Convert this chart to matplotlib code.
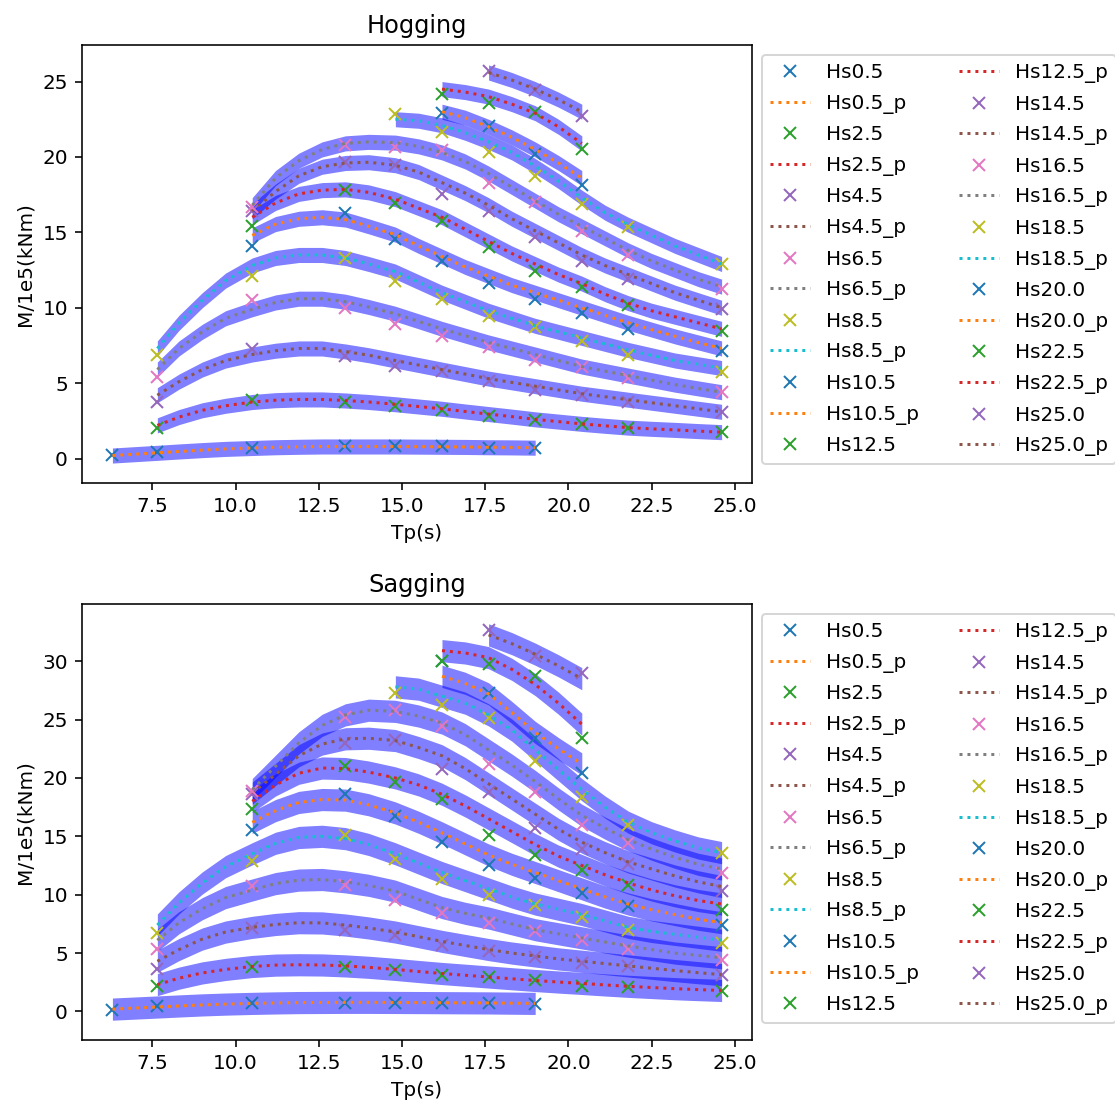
import numpy as np
import matplotlib
matplotlib.use("Agg")
import matplotlib.pyplot as plt

# wave heights (one measured set + one prediction per Hs)
hs_list = [0.5, 2.5, 4.5, 6.5, 8.5, 10.5, 12.5, 14.5, 16.5, 18.5, 20.0, 22.5, 25.0]

# Tp where the measured points sit
tp_pts = [6.3, 7.65, 10.5, 13.3, 14.8, 16.2, 17.6, 19.0, 20.4, 21.8, 24.6]

# Tp grid of the prediction curves
tp_pred = [6.3, 7.65, 8.3, 9.0, 9.7, 10.5, 11.2, 11.9, 12.6, 13.3, 14.0, 14.8, 15.5,
           16.2, 16.9, 17.6, 18.3, 19.0, 19.7, 20.4, 21.1, 21.8, 22.5, 23.2, 23.9, 24.6]

N = None

# measured hogging moment, M/1e5 (kNm)
hog_meas = [
	[0.23, 0.45, 0.71, 0.82, 0.82, 0.82, 0.71, 0.71, N, N, N],
	[N, 2.0, 3.89, 3.78, 3.51, 3.22, 2.85, 2.56, 2.27, 2.0, 1.78],
	[N, 3.78, 7.27, 6.78, 6.11, 5.78, 5.11, 4.56, 4.22, 3.78, 3.11],
	[N, 5.44, 10.49, 10.0, 8.93, 8.11, 7.38, 6.56, 6.05, 5.33, 4.4],
	[N, 6.84, 12.11, 13.33, 11.78, 10.56, 9.44, 8.71, 7.78, 6.89, 5.73],
	[N, N, 14.11, 16.29, 14.56, 13.11, 11.67, 10.56, 9.67, 8.56, 7.11],
	[N, N, 15.44, 17.78, 16.93, 15.78, 14.0, 12.44, 11.38, 10.18, 8.44],
	[N, N, 16.44, 19.67, 19.44, 17.56, 16.44, 14.67, 13.11, 11.89, 9.89],
	[N, N, 16.67, 20.82, 20.67, 20.49, 18.27, 17.0, 15.11, 13.51, 11.22],
	[N, N, N, N, 22.85, 21.67, 20.33, 18.71, 16.85, 15.38, 12.89],
	[N, N, N, N, N, 22.89, 22.05, 20.18, 18.11, N, N],
	[N, N, N, N, N, 24.2, 23.6, 23.0, 20.56, N, N],
	[N, N, N, N, N, N, 25.67, 24.44, 22.69, N, N],
]

# predicted hogging moment on tp_pred
hog_pred = [
	[0.2, 0.38, 0.47, 0.56, 0.64, 0.70, 0.75, 0.78, 0.80, 0.80, 0.80, 0.80, 0.79, 0.78, 0.77, 0.75, 0.74, 0.72] + [N] * 8,
	[N, 2.2, 2.75, 3.2, 3.5, 3.75, 3.87, 3.92, 3.92, 3.85, 3.75, 3.6, 3.45, 3.3, 3.12, 2.95, 2.78, 2.6, 2.45, 2.3, 2.17, 2.05, 1.97, 1.9, 1.82, 1.75],
	[N, 4.2, 5.1, 5.9, 6.5, 6.9, 7.15, 7.3, 7.3, 7.1, 6.85, 6.5, 6.2, 5.9, 5.6, 5.3, 5.05, 4.8, 4.55, 4.3, 4.1, 3.9, 3.7, 3.5, 3.3, 3.1],
	[N, 5.9, 7.3, 8.4, 9.3, 9.9, 10.35, 10.6, 10.6, 10.4, 10.05, 9.6, 9.1, 8.6, 8.15, 7.7, 7.3, 6.9, 6.5, 6.1, 5.8, 5.5, 5.2, 4.9, 4.65, 4.4],
	[N, 7.3, 9.0, 10.5, 11.8, 12.8, 13.3, 13.5, 13.5, 13.3, 12.9, 12.4, 11.7, 11.0, 10.4, 9.8, 9.3, 8.8, 8.4, 8.0, 7.6, 7.2, 6.85, 6.5, 6.25, 6.0],
	[N] * 5 + [14.8, 15.55, 15.9, 16.0, 15.85, 15.4, 14.85, 14.1, 13.4, 12.7, 12.1, 11.5, 11.0, 10.5, 10.0, 9.5, 9.0, 8.55, 8.1, 7.7, 7.3],
	[N] * 5 + [16.0, 16.95, 17.55, 17.8, 17.85, 17.65, 17.2, 16.6, 16.0, 15.2, 14.4, 13.6, 12.9, 12.2, 11.6, 10.9, 10.3, 9.8, 9.4, 9.0, 8.6],
	[N] * 5 + [16.4, 17.7, 18.75, 19.35, 19.6, 19.65, 19.45, 19.0, 18.3, 17.6, 16.8, 15.9, 15.1, 14.3, 13.5, 12.8, 12.2, 11.6, 11.0, 10.5, 10.0],
	[N] * 5 + [16.8, 18.6, 19.75, 20.5, 20.9, 21.0, 20.95, 20.7, 20.3, 19.7, 18.9, 18.0, 17.1, 16.2, 15.4, 14.6, 13.8, 13.1, 12.5, 11.9, 11.4],
	[N] * 11 + [22.5, 22.4, 22.1, 21.6, 21.0, 20.3, 19.4, 18.4, 17.3, 16.3, 15.5, 14.8, 14.1, 13.5, 12.9],
	[N] * 13 + [23.0, 22.6, 22.0, 21.3, 20.5, 19.6, 18.6] + [N] * 6,
	[N] * 13 + [24.5, 24.3, 24.0, 23.5, 22.9, 22.0, 20.9] + [N] * 6,
	[N] * 15 + [25.6, 25.1, 24.5, 23.8, 23.0] + [N] * 6,
]

# measured sagging moment
sag_meas = [
	[0.15, 0.43, 0.72, 0.72, 0.72, 0.72, 0.72, 0.66, N, N, N],
	[N, 2.14, 3.8, 3.8, 3.52, 3.15, 2.95, 2.66, 2.2, 2.09, 1.72],
	[N, 3.63, 7.15, 7.0, 6.58, 5.72, 5.15, 4.66, 4.15, 3.86, 3.15],
	[N, 5.35, 10.78, 10.87, 9.58, 8.44, 7.58, 6.86, 6.15, 5.35, 4.43],
	[N, 6.72, 12.86, 15.15, 13.07, 11.35, 10.0, 9.15, 8.1, 7.0, 5.86],
	[N, N, 15.52, 18.59, 16.78, 14.5, 12.58, 11.44, 10.15, 9.06, 7.43],
	[N, N, 17.3, 21.01, 19.64, 18.22, 15.15, 13.44, 12.09, 10.87, 8.72],
	[N, N, 18.6, 22.96, 23.24, 20.79, 18.78, 15.73, 13.93, 12.67, 10.29],
	[N, N, 18.9, 25.25, 25.82, 24.44, 21.16, 18.78, 16.01, 14.44, 11.87],
	[N, N, N, N, 27.31, 26.22, 25.16, 21.44, 18.39, 15.93, 13.58],
	[N, N, N, N, N, 30.0, 27.25, 23.45, 20.45, N, N],
	[N, N, N, N, N, 30.05, 29.73, 28.73, 23.4, N, N],
	[N, N, N, N, N, N, 32.7, 30.45, 29.0, N, N],
]

# predicted sagging moment on tp_pred
sag_pred = [
	[0.2, 0.38, 0.47, 0.56, 0.63, 0.69, 0.73, 0.76, 0.77, 0.78, 0.78, 0.77, 0.76, 0.75, 0.74, 0.73, 0.71, 0.69] + [N] * 8,
	[N, 2.3, 2.85, 3.3, 3.6, 3.85, 3.97, 4.0, 3.98, 3.9, 3.78, 3.6, 3.42, 3.25, 3.1, 2.95, 2.8, 2.65, 2.52, 2.4, 2.27, 2.15, 2.05, 1.95, 1.87, 1.8],
	[N, 4.3, 5.3, 6.2, 6.8, 7.2, 7.45, 7.6, 7.58, 7.4, 7.15, 6.8, 6.4, 6.0, 5.65, 5.3, 5.0, 4.75, 4.5, 4.3, 4.1, 3.9, 3.7, 3.5, 3.32, 3.15],
	[N, 6.1, 7.6, 8.8, 9.75, 10.4, 10.95, 11.25, 11.3, 11.1, 10.8, 10.3, 9.6, 8.9, 8.4, 8.0, 7.5, 7.0, 6.65, 6.3, 5.95, 5.6, 5.3, 5.0, 4.8, 4.6],
	[N, 7.4, 9.3, 11.0, 12.4, 13.5, 14.4, 14.9, 15.0, 14.8, 14.3, 13.5, 12.7, 11.9, 11.2, 10.5, 9.8, 9.2, 8.75, 8.3, 7.75, 7.2, 6.85, 6.6, 6.35, 6.1],
	[N] * 5 + [16.2, 17.2, 17.9, 18.15, 18.1, 17.7, 17.0, 16.2, 15.3, 14.35, 13.4, 12.6, 11.9, 11.2, 10.5, 9.8, 9.2, 8.7, 8.3, 7.9, 7.6],
	[N] * 5 + [18.0, 19.4, 20.4, 20.85, 20.8, 20.5, 20.0, 19.4, 18.6, 17.6, 16.5, 15.4, 14.3, 13.3, 12.5, 11.7, 11.0, 10.4, 9.9, 9.5, 9.2],
	[N] * 5 + [18.7, 20.3, 21.9, 22.9, 23.35, 23.4, 23.2, 22.6, 21.9, 20.8, 19.5, 18.2, 16.9, 15.6, 14.5, 13.6, 12.8, 12.2, 11.6, 11.1, 10.7],
	[N] * 5 + [19.0, 21.0, 23.0, 24.5, 25.4, 25.8, 25.7, 25.3, 24.7, 23.7, 22.4, 21.1, 19.7, 18.2, 16.8, 15.7, 14.7, 13.9, 13.2, 12.6, 12.2],
	[N] * 11 + [27.8, 27.6, 27.0, 26.4, 25.4, 24.1, 22.4, 20.7, 19.0, 17.5, 16.2, 15.3, 14.6, 14.0, 13.6],
	[N] * 13 + [28.7, 28.1, 27.2, 25.6, 23.9, 22.5, 21.2] + [N] * 6,
	[N] * 13 + [30.9, 30.7, 30.3, 29.3, 28.0, 26.4, 24.6] + [N] * 6,
	[N] * 15 + [32.25, 31.5, 30.6, 29.6, 28.5] + [N] * 6,
]

# half width of the shaded band round each prediction
hog_band = 0.5
sag_band = 0.95


def panel(ax, meas, pred, band, title): #one hogging/sagging plot with its legend
	tp_m = np.array(tp_pts)
	tp_p = np.array(tp_pred)
	for hs, m, p in zip(hs_list, meas, pred):
		m = np.array(m, dtype=float)
		p = np.array(p, dtype=float)
		km = ~np.isnan(m)
		kp = ~np.isnan(p)
		ax.plot(tp_m[km], m[km], 'x', label='Hs{}'.format(hs))
		ax.plot(tp_p[kp], p[kp], ':', label='Hs{}_p'.format(hs))
		ax.fill_between(tp_p[kp], p[kp] - band, p[kp] + band, color='blue', alpha=0.5, linewidth=0)
	ax.set_title(title)
	ax.set_xlabel('Tp(s)')
	ax.set_ylabel('M/1e5(kNm)')
	ax.legend(loc='upper left', bbox_to_anchor=(1.0, 1.0), ncol=2, labelspacing=0.58)


fig = plt.figure(figsize=(1115 / 144, 1107 / 144), dpi=144)
ax1 = fig.add_axes([0.0735, 0.5637, 0.601, 0.3956])
ax2 = fig.add_axes([0.0735, 0.0605, 0.601, 0.3939])
panel(ax1, hog_meas, hog_pred, hog_band, 'Hogging')
panel(ax2, sag_meas, sag_pred, sag_band, 'Sagging')
fig.savefig('out.png', dpi=144)
